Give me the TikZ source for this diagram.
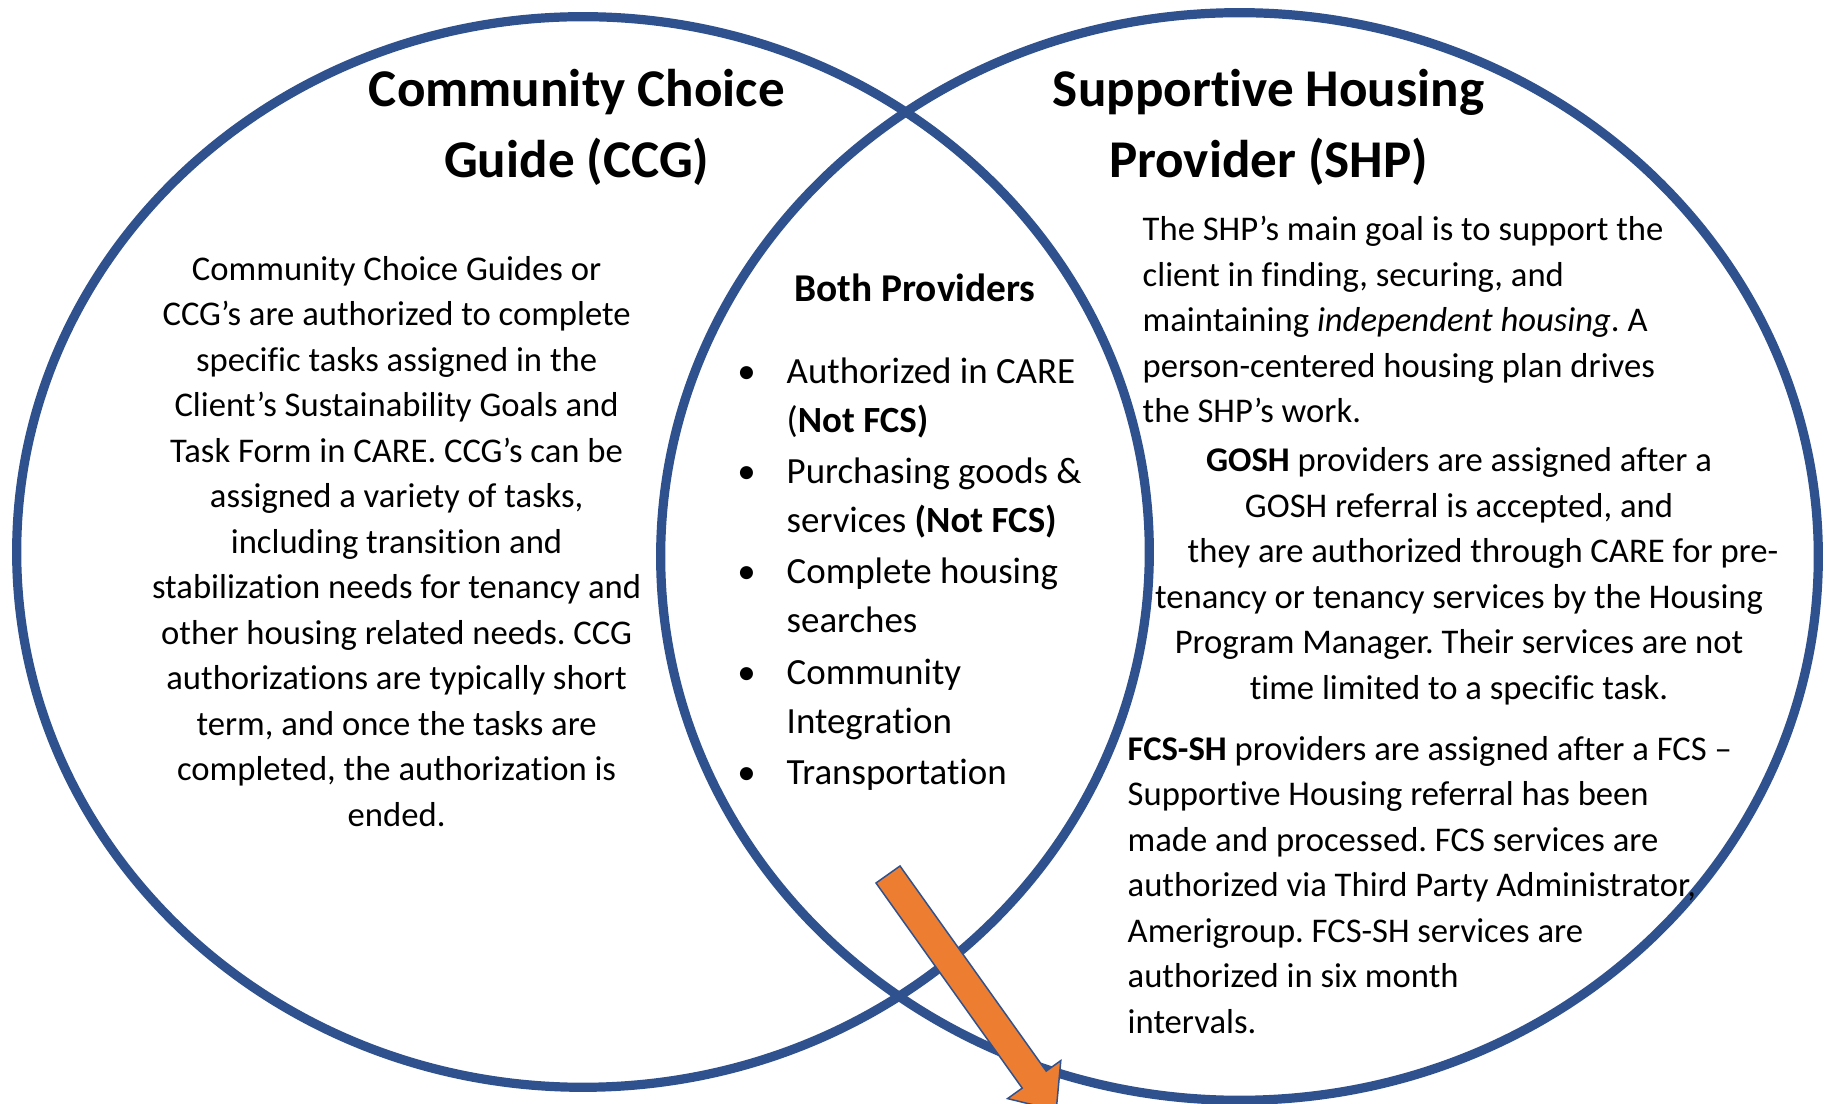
\documentclass[tikz,border=0pt]{standalone}
\usepackage{fontspec}
\setmainfont{Carlito}[Ligatures={NoCommon}]
\definecolor{vblue}{RGB}{47,82,143}
\definecolor{vorange}{RGB}{237,125,49}
\newcommand\fbody{\fontsize{9.85}{12}\selectfont}
\newcommand\fmid{\fontsize{10.5}{12.5}\selectfont}
\newcommand\fhead{\fontsize{11.2}{13}\selectfont\bfseries}
\newcommand\ftitle{\fontsize{15.1}{18}\selectfont\bfseries}
\frenchspacing
\tikzset{
  ring/.style={draw=vblue, line width=0.092cm},
  bt/.style={anchor=base, inner sep=0pt, font=\fbody},
  btl/.style={anchor=base west, inner sep=0pt, font=\fbody},
  mt/.style={anchor=base west, inner sep=0pt, font=\fmid},
  bul/.style={anchor=base, inner sep=0pt, font=\fmid},
  hd/.style={anchor=base, inner sep=0pt, font=\fhead},
  ttl/.style={anchor=base, inner sep=0pt, font=\ftitle},
  bigarrow/.style={fill=vorange, draw=vblue, line width=0.015cm, line join=miter}
}
\begin{document}
\frenchspacing
\begin{tikzpicture}[x=0.01cm,y=-0.01cm]
\useasboundingbox (0,0) rectangle (1829,1104);
\clip (0,0) rectangle (1829,1104);
% circles
\draw[ring] (583,552) ellipse [x radius=5.66cm, y radius=5.35cm];
\draw[ring] (1239.5,556.5) ellipse [x radius=5.785cm, y radius=5.435cm];
% arrow
\coordinate (a1) at (876,883);
\coordinate (a2) at (900,866);
\coordinate (a3) at (1046.2,1071.1);
\coordinate (a4) at (1060.8,1060.6);
\coordinate (a5) at (1056.2,1110.5);
\coordinate (a6) at (1007.6,1098.6);
\coordinate (a7) at (1022.2,1088.1);
\draw[bigarrow] (a1) -- (a2) -- (a3) -- (a4) -- (a5) -- (a6) -- (a7) -- cycle;
% titles
\node[ttl] (t1) at (576.8,107) {Community Choice};
\node[ttl] (t2) at (576.8,178) {Guide (CCG)};
\node[ttl] (t3) at (1268.6,107) {Supportive Housing};
\node[ttl] (t4) at (1268.6,178) {Provider (SHP)};
% left text
\node[bt] (l1) at (396.6,280.5) {Community Choice Guides or};
\node[bt] (l2) at (396.6,326) {CCG’s are authorized to complete};
\node[bt] (l3) at (396.6,371.5) {specific tasks assigned in the};
\node[bt] (l4) at (396.6,417) {Client’s Sustainability Goals and};
\node[bt] (l5) at (396.6,462.5) {Task Form in CARE. CCG’s can be};
\node[bt] (l6) at (396.6,508) {assigned a variety of tasks,};
\node[bt] (l7) at (396.6,553.5) {including transition and};
\node[bt] (l8) at (396.6,599) {stabilization needs for tenancy and};
\node[bt] (l9) at (396.6,644.5) {other housing related needs. CCG};
\node[bt] (l10) at (396.6,690) {authorizations are typically short};
\node[bt] (l11) at (396.6,735.5) {term, and once the tasks are};
\node[bt] (l12) at (396.6,781) {completed, the authorization is};
\node[bt] (l13) at (396.6,826.5) {ended.};
% middle
\node[hd] (m0) at (915,302) {Both Providers};
\node[bul] (b1) at (746.6,383.1) {•};
\node[mt] (m1) at (786,383.1) {Authorized in CARE};
\node[mt] (m2) at (786,432.1) {(\textbf{Not FCS)}};
\node[bul] (b2) at (746.6,483.4) {•};
\node[mt] (m3) at (786,483.4) {Purchasing goods \&};
\node[mt] (m4) at (786,532.4) {services \textbf{(Not FCS)}};
\node[bul] (b3) at (746.6,583.7) {•};
\node[mt] (m5) at (786,583.7) {Complete housing};
\node[mt] (m6) at (786,632.7) {searches};
\node[bul] (b4) at (746.6,684.1) {•};
\node[mt] (m7) at (786,684.1) {Community};
\node[mt] (m8) at (786,733.1) {Integration};
\node[bul] (b5) at (746.6,784.4) {•};
\node[mt] (m9) at (786,784.4) {Transportation};
% right paragraph 1
\node[btl] (r1) at (1142,241) {The SHP’s main goal is to support the};
\node[btl] (r2) at (1142,286.5) {client in finding, securing, and};
\node[btl] (r3) at (1142,332) {maintaining {\itshape independent housing}. A};
\node[btl] (r4) at (1142,377.5) {person-centered housing plan drives};
\node[btl] (r5) at (1142,423) {the SHP’s work.};
% right paragraph 2
\node[bt] (g1) at (1459,472) {\textbf{GOSH} providers are assigned after a};
\node[bt] (g2) at (1459,517.5) {GOSH referral is accepted, and};
\node[bt] (g3) at (1483,563) {they are authorized through CARE for pre-};
\node[bt] (g4) at (1459,608.5) {tenancy or tenancy services by the Housing};
\node[bt] (g5) at (1459,654) {Program Manager. Their services are not};
\node[bt] (g6) at (1459,699.5) {time limited to a specific task.};
% right paragraph 3
\node[btl] (f1) at (1127,760.5) {\textbf{FCS-SH} providers are assigned after a FCS –};
\node[btl] (f2) at (1127,806) {Supportive Housing referral has been};
\node[btl] (f3) at (1127,851.5) {made and processed. FCS services are};
\node[btl] (f4) at (1127,897) {authorized via Third Party Administrator,};
\node[btl] (f5) at (1127,942.5) {Amerigroup. FCS-SH services are};
\node[btl] (f6) at (1127,988) {authorized in six month};
\node[btl] (f7) at (1127,1033.5) {intervals.};
\end{tikzpicture}
\end{document}
